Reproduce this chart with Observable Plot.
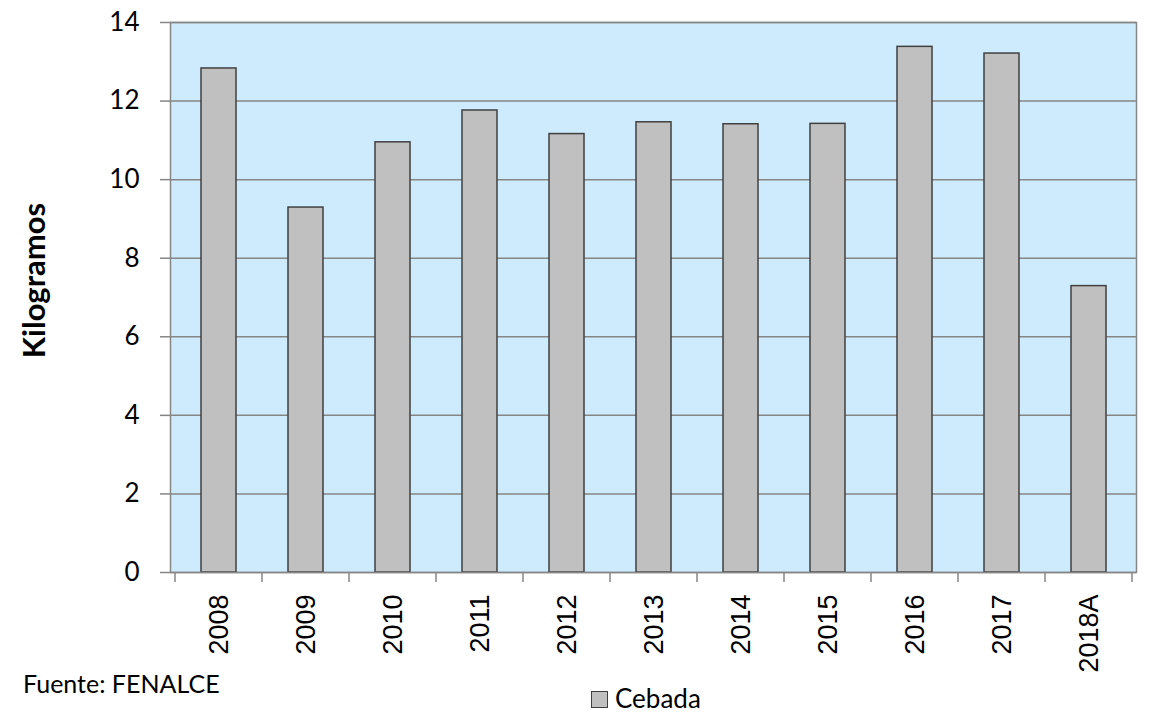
<!DOCTYPE html>
<html>
<head>
<meta charset="utf-8">
<script src="https://cdn.jsdelivr.net/npm/d3@7"></script>
<script src="https://cdn.jsdelivr.net/npm/@observablehq/plot@0.6"></script>
<style>
  html, body { margin: 0; padding: 0; background: #fff; }
  #wrap { position: relative; width: 1150px; height: 713px; overflow: hidden; }
  #caption { position: absolute; left: 23px; top: 671px; font-family: Lato, "Open Sans", sans-serif; font-size: 25px; line-height: 1; color: #000; white-space: nowrap; }
  #legend { position: absolute; left: 591px; top: 685px; font-family: Lato, "Open Sans", sans-serif; font-size: 26px; line-height: 1; color: #000; white-space: nowrap; display: flex; align-items: center; }
  #legend .sw { width: 15px; height: 15px; background: #c0c0c0; border: 1.5px solid #404040; margin-right: 7px; margin-top: 2px; }
</style>
</head>
<body>
<div id="wrap"></div>
<script>
const years = ["2008","2009","2010","2011","2012","2013","2014","2015","2016","2017","2018A"];
const cebada = [12.83, 9.29, 10.95, 11.76, 11.16, 11.46, 11.41, 11.42, 13.38, 13.21, 7.29];
const yTicks = [0, 2, 4, 6, 8, 10, 12, 14];
const yLabel = "Kilogramos";
const seriesName = "Cebada";
const source = "Fuente: FENALCE";

const data = years.map((y, i) => ({year: y, value: cebada[i]}));

// category boundary ticks drawn through the x scale
function boundaryTicks(index, scales, values, dimensions) {
  const x = scales.x;
  const step = x(years[1]) - x(years[0]);
  const bw = x.bandwidth ? x.bandwidth() : 0;
  const y0 = scales.y(0);
  const g = d3.create("svg:g").attr("stroke", "#868686").attr("stroke-width", 1.5);
  const edges = years.map(c => x(c) + bw / 2 - step / 2);
  edges.push(x(years[years.length - 1]) + bw / 2 + step / 2);
  for (const e of edges) {
    g.append("line").attr("x1", e).attr("x2", e).attr("y1", y0).attr("y2", y0 + 10);
  }
  return g.node();
}

const plot = Plot.plot({
  width: 1150,
  height: 713,
  marginLeft: 170,
  marginRight: 14,
  marginTop: 22,
  marginBottom: 141,
  style: {background: "transparent"},
  x: {domain: years, paddingInner: 0.6, paddingOuter: 0.3},
  y: {domain: [0, 14]},
  marks: [
    Plot.frame({fill: "#cdebfc", stroke: "none"}),
    Plot.gridY(yTicks, {stroke: "#868686", strokeOpacity: 1, strokeWidth: 1.5}),
    Plot.barY(data, {x: "year", y: "value", fill: "#c0c0c0", stroke: "#404040", strokeWidth: 1.5}),
    Plot.frame({stroke: "#868686", strokeWidth: 1.5}),
    Plot.axisY({ticks: yTicks, tickSize: 10, tickPadding: 21, stroke: "#868686", strokeWidth: 1.5, fill: "#000",
      fontSize: 26, fontFamily: "Lato, 'Open Sans', sans-serif", label: null}),
    Plot.text([yLabel], {text: d => d, frameAnchor: "left", textAnchor: "middle", rotate: -90, dx: -135, dy: -17,
      fontSize: 31, fontWeight: "bold", fontFamily: "Lato, 'Open Sans', sans-serif", fill: "#000"}),
    Plot.axisX({tickSize: 0, tickPadding: 22, tickRotate: -90, fontSize: 27,
      fontFamily: "'Liberation Sans', Arial, sans-serif", fill: "#000", label: null}),
    boundaryTicks
  ]
});

const wrap = document.getElementById("wrap");
wrap.appendChild(plot);
const cap = document.createElement("div");
cap.id = "caption";
cap.textContent = source;
wrap.appendChild(cap);
const leg = document.createElement("div");
leg.id = "legend";
const sw = document.createElement("span");
sw.className = "sw";
leg.appendChild(sw);
const lt = document.createElement("span");
lt.textContent = seriesName;
leg.appendChild(lt);
wrap.appendChild(leg);
</script>
</body>
</html>
